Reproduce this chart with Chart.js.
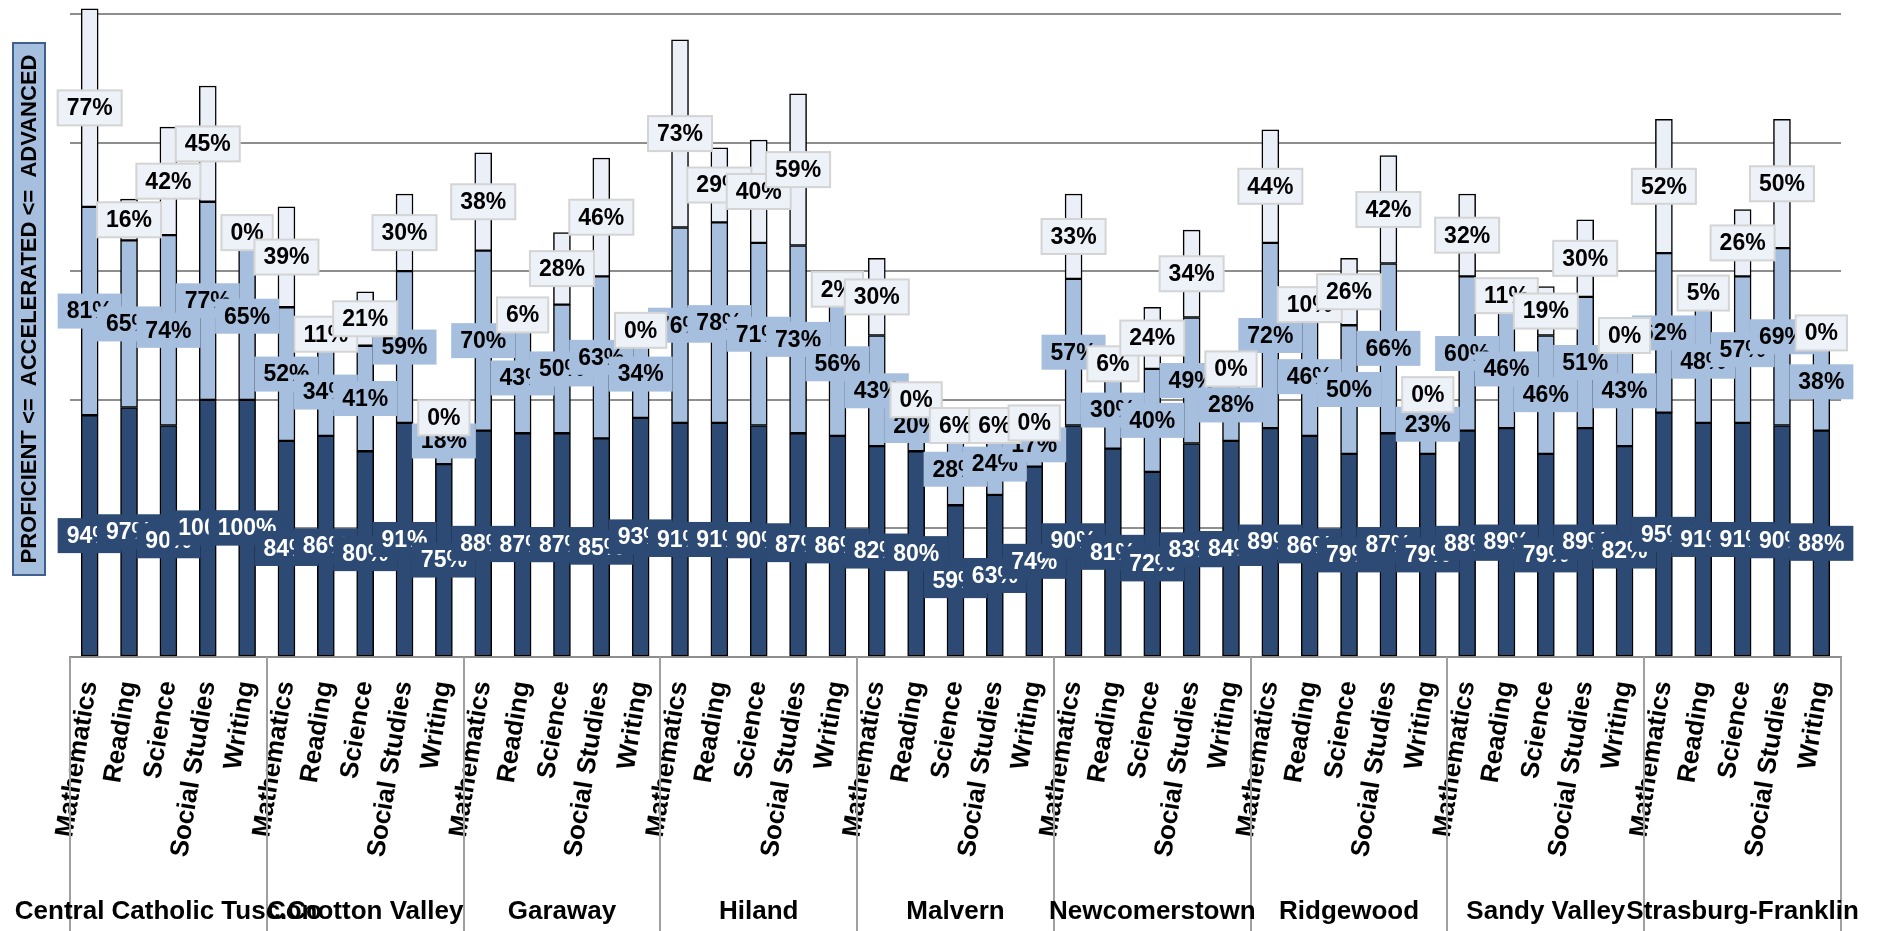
<!DOCTYPE html>
<html>
<head>
<meta charset="utf-8">
<script src="https://cdn.jsdelivr.net/npm/chart.js@4.4.1/dist/chart.umd.min.js"></script>
<style>
  html, body { margin: 0; padding: 0; background: #fff; }
  #wrap { width: 1883px; height: 931px; position: relative; }
</style>
</head>
<body>
<div id="wrap"><canvas id="chart"></canvas></div>
<script>
// Schools (outer category) and subjects (inner category)
const schools = ["Central Catholic Tusc.Co", "Conotton Valley", "Garaway", "Hiland", "Malvern",
  "Newcomerstown", "Ridgewood", "Sandy Valley", "Strasburg-Franklin"];
const subjects = ["Mathematics", "Reading", "Science", "Social Studies", "Writing"];

// % proficient or above, per school, in subject order
const proficient = [
  94, 97, 90, 100, 100,   // Central Catholic
  84, 86, 80, 91, 75,     // Conotton Valley
  88, 87, 87, 85, 93,     // Garaway
  91, 91, 90, 87, 86,     // Hiland
  82, 80, 59, 63, 74,     // Malvern
  90, 81, 72, 83, 84,     // Newcomerstown
  89, 86, 79, 87, 79,     // Ridgewood
  88, 89, 79, 89, 82,     // Sandy Valley
  95, 91, 91, 90, 88      // Strasburg-Franklin
];
// % accelerated or above
const accelerated = [
  81, 65, 74, 77, 65,
  52, 34, 41, 59, 18,
  70, 43, 50, 63, 34,
  76, 78, 71, 73, 56,
  43, 20, 28, 24, 17,
  57, 30, 40, 49, 28,
  72, 46, 50, 66, 23,
  60, 46, 46, 51, 43,
  62, 48, 57, 69, 38
];
// % advanced
const advanced = [
  77, 16, 42, 45, 0,
  39, 11, 21, 30, 0,
  38, 6, 28, 46, 0,
  73, 29, 40, 59, 2,
  30, 0, 6, 6, 0,
  33, 6, 24, 34, 0,
  44, 10, 26, 42, 0,
  32, 11, 19, 30, 0,
  52, 5, 26, 50, 0
];

const yTitle = "PROFICIENT <=  ACCELERATED <=  ADVANCED";

const FONT = '"Liberation Sans", Arial, sans-serif';
const DARK = "#2C4A73";
const MID = "#A7BFDE";
const LIGHT = "#EBF0F8";

const labels = [];
schools.forEach(() => subjects.forEach((s) => labels.push(s)));

// value labels, boxed like the original, centred in each segment
const segLabels = {
  id: "segLabels",
  afterDatasetsDraw(chart) {
    const ctx = chart.ctx;
    const bg = [DARK, MID, "#EDF1F8"];
    const fg = ["#fff", "#000", "#000"];
    ctx.save();
    ctx.font = "bold 23px " + FONT;
    ctx.textAlign = "center";
    ctx.textBaseline = "middle";
    chart.data.datasets.forEach((ds, di) => {
      const meta = chart.getDatasetMeta(di);
      meta.data.forEach((bar, i) => {
        const txt = ds.data[i] + "%";
        const w = ctx.measureText(txt).width + 18;
        const h = 35;
        const cy = (bar.y + bar.base) / 2;
        ctx.fillStyle = bg[di];
        ctx.fillRect(bar.x - w / 2, cy - h / 2, w, h);
        if (di === 2) {
          ctx.strokeStyle = "#D4D4D4";
          ctx.lineWidth = 2;
          ctx.strokeRect(bar.x - w / 2, cy - h / 2, w, h);
        }
        ctx.fillStyle = fg[di];
        ctx.fillText(txt, bar.x, cy + 1);
      });
    });
    ctx.restore();
  },
};

// school names, group separators and the boxed axis title
const extras = {
  id: "extras",
  afterDraw(chart) {
    const ctx = chart.ctx;
    const xs = chart.scales.x;
    const area = chart.chartArea;
    const cw = (area.right - area.left) / labels.length;
    ctx.save();
    ctx.strokeStyle = "#A0A0A0";
    ctx.lineWidth = 2;
    for (let g = 0; g <= schools.length; g++) {
      const x = Math.round(xs.getPixelForValue(g * subjects.length) - cw / 2);
      ctx.beginPath();
      ctx.moveTo(x, area.bottom);
      ctx.lineTo(x, chart.height);
      ctx.stroke();
    }
    ctx.fillStyle = "#000";
    ctx.font = "bold 26px " + FONT;
    ctx.textAlign = "center";
    ctx.textBaseline = "middle";
    schools.forEach((s, g) => {
      const x0 = xs.getPixelForValue(g * subjects.length) - cw / 2;
      ctx.fillText(s, x0 + cw * subjects.length / 2, 912);
    });

    ctx.fillStyle = MID;
    ctx.fillRect(13, 43, 32, 532);
    ctx.strokeStyle = "#3F5F8C";
    ctx.lineWidth = 2;
    ctx.strokeRect(13, 43, 32, 532);
    ctx.translate(30, 309);
    ctx.rotate(-Math.PI / 2);
    ctx.fillStyle = "#000";
    ctx.font = "bold 22px " + FONT;
    ctx.fillText(yTitle, 0, 0);
    ctx.restore();
  },
};

function barBorder(c) {
  return c.raw === 0 ? 0 : 1.5;
}

const chart = new Chart(document.getElementById("chart"), {
  type: "bar",
  data: {
    labels: labels,
    datasets: [
      { label: "Proficient", data: proficient, backgroundColor: DARK },
      { label: "Accelerated", data: accelerated, backgroundColor: MID },
      { label: "Advanced", data: advanced, backgroundColor: LIGHT },
    ].map((d) => Object.assign(d, {
      borderColor: "#000",
      borderWidth: barBorder,
      borderSkipped: false,
      barThickness: 17,
      clip: false,
    })),
  },
  options: {
    responsive: true,
    maintainAspectRatio: false,
    animation: false,
    layout: { padding: { top: 14, right: 42, left: 0, bottom: 0 } },
    plugins: { legend: { display: false }, tooltip: { enabled: false } },
    scales: {
      x: {
        stacked: true,
        grid: { display: false, drawTicks: false },
        border: { display: true, color: "#8E8E8E", width: 2 },
        ticks: {
          autoSkip: false,
          minRotation: 81,
          maxRotation: 81,
          padding: 22,
          color: "#000",
          font: { family: FONT, size: 26, weight: "bold" },
        },
        afterFit(axis) {
          axis.height = 274;
          axis.paddingLeft = 0;
          axis.paddingRight = 0;
        },
      },
      y: {
        stacked: true,
        min: 0,
        max: 250,
        ticks: { display: false, stepSize: 50 },
        grid: { color: "#8E8E8E", lineWidth: 2, drawTicks: false },
        border: { display: false },
        afterFit(axis) {
          axis.width = 70;
        },
      },
    },
  },
  plugins: [segLabels, extras],
});
</script>
</body>
</html>
